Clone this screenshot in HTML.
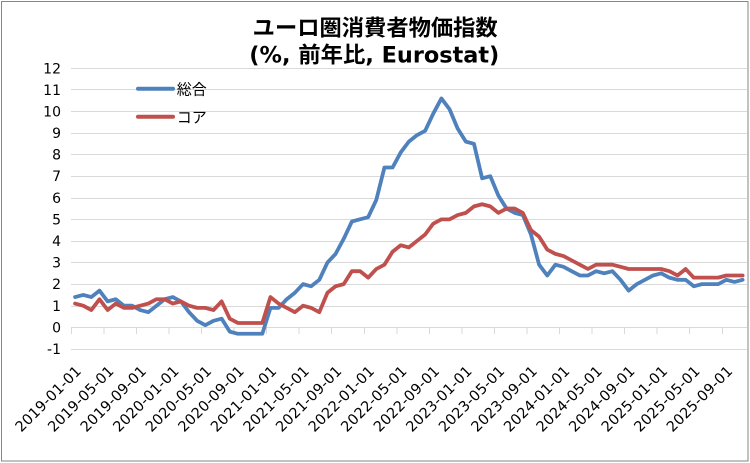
<!DOCTYPE html>
<html><head><meta charset="utf-8"><style>
html,body{margin:0;padding:0;background:#fff;}
svg{display:block;}
</style></head><body>
<svg width="750" height="463" viewBox="0 0 750 463" xmlns="http://www.w3.org/2000/svg">
<rect x="0" y="0" width="750" height="463" fill="#fff"/>
<rect x="1.5" y="1.5" width="746.5" height="459.5" fill="none" stroke="#868686" stroke-width="1"/>

<!-- title -->
<g font-family="'DejaVu Sans','Noto Sans CJK JP',sans-serif" font-weight="bold" font-size="22" fill="#000">
<text x="252.7" y="35.5" textLength="245" lengthAdjust="spacingAndGlyphs">ユーロ圏消費者物価指数</text>
<text x="249.3" y="62.5" textLength="250" lengthAdjust="spacingAndGlyphs">(%, 前年比, Eurostat)</text>
</g>

<!-- gridlines -->
<g stroke="#d9d9d9" stroke-width="1" shape-rendering="crispEdges">
<line x1="71" x2="747" y1="68.5" y2="68.5"/>
<line x1="71" x2="747" y1="89.5" y2="89.5"/>
<line x1="71" x2="747" y1="111.5" y2="111.5"/>
<line x1="71" x2="747" y1="133.5" y2="133.5"/>
<line x1="71" x2="747" y1="154.5" y2="154.5"/>
<line x1="71" x2="747" y1="176.5" y2="176.5"/>
<line x1="71" x2="747" y1="198.5" y2="198.5"/>
<line x1="71" x2="747" y1="219.5" y2="219.5"/>
<line x1="71" x2="747" y1="241.5" y2="241.5"/>
<line x1="71" x2="747" y1="262.5" y2="262.5"/>
<line x1="71" x2="747" y1="284.5" y2="284.5"/>
<line x1="71" x2="747" y1="306.5" y2="306.5"/>
<line x1="71" x2="747" y1="327.5" y2="327.5"/>
<line x1="71" x2="747" y1="349.5" y2="349.5"/>
<!-- ticks -->
<line x1="71.5" x2="71.5" y1="327" y2="334"/>
<line x1="104" x2="104" y1="327" y2="334"/>
<line x1="136.5" x2="136.5" y1="327" y2="334"/>
<line x1="169" x2="169" y1="327" y2="334"/>
<line x1="201.5" x2="201.5" y1="327" y2="334"/>
<line x1="234" x2="234" y1="327" y2="334"/>
<line x1="266.5" x2="266.5" y1="327" y2="334"/>
<line x1="299" x2="299" y1="327" y2="334"/>
<line x1="331.5" x2="331.5" y1="327" y2="334"/>
<line x1="364.5" x2="364.5" y1="327" y2="334"/>
<line x1="397" x2="397" y1="327" y2="334"/>
<line x1="429.5" x2="429.5" y1="327" y2="334"/>
<line x1="462" x2="462" y1="327" y2="334"/>
<line x1="494.5" x2="494.5" y1="327" y2="334"/>
<line x1="527" x2="527" y1="327" y2="334"/>
<line x1="559.5" x2="559.5" y1="327" y2="334"/>
<line x1="592" x2="592" y1="327" y2="334"/>
<line x1="624.5" x2="624.5" y1="327" y2="334"/>
<line x1="657" x2="657" y1="327" y2="334"/>
<line x1="689.5" x2="689.5" y1="327" y2="334"/>
<line x1="722.5" x2="722.5" y1="327" y2="334"/>
</g>

<!-- y labels -->
<g font-family="'DejaVu Sans',sans-serif" font-size="14" fill="#000" text-anchor="end">
<text x="61" y="73.3">12</text>
<text x="61" y="94.8">11</text>
<text x="61" y="116.4">10</text>
<text x="61" y="138">9</text>
<text x="61" y="159.6">8</text>
<text x="61" y="181.2">7</text>
<text x="61" y="202.8">6</text>
<text x="61" y="224.4">5</text>
<text x="61" y="246">4</text>
<text x="61" y="267.6">3</text>
<text x="61" y="289.2">2</text>
<text x="61" y="310.8">1</text>
<text x="61" y="332.3">0</text>
<text x="61" y="353.9">-1</text>
</g>

<!-- x labels -->
<g font-family="'DejaVu Sans',sans-serif" font-size="14.5" fill="#000" text-anchor="end">
<text transform="translate(82.07,372) rotate(-45)" textLength="86">2019-01-01</text>
<text transform="translate(114.63,372) rotate(-45)" textLength="86">2019-05-01</text>
<text transform="translate(147.2,372) rotate(-45)" textLength="86">2019-09-01</text>
<text transform="translate(179.76,372) rotate(-45)" textLength="86">2020-01-01</text>
<text transform="translate(212.33,372) rotate(-45)" textLength="86">2020-05-01</text>
<text transform="translate(244.89,372) rotate(-45)" textLength="86">2020-09-01</text>
<text transform="translate(277.45,372) rotate(-45)" textLength="86">2021-01-01</text>
<text transform="translate(310.02,372) rotate(-45)" textLength="86">2021-05-01</text>
<text transform="translate(342.58,372) rotate(-45)" textLength="86">2021-09-01</text>
<text transform="translate(375.15,372) rotate(-45)" textLength="86">2022-01-01</text>
<text transform="translate(407.71,372) rotate(-45)" textLength="86">2022-05-01</text>
<text transform="translate(440.27,372) rotate(-45)" textLength="86">2022-09-01</text>
<text transform="translate(472.84,372) rotate(-45)" textLength="86">2023-01-01</text>
<text transform="translate(505.4,372) rotate(-45)" textLength="86">2023-05-01</text>
<text transform="translate(537.97,372) rotate(-45)" textLength="86">2023-09-01</text>
<text transform="translate(570.53,372) rotate(-45)" textLength="86">2024-01-01</text>
<text transform="translate(603.09,372) rotate(-45)" textLength="86">2024-05-01</text>
<text transform="translate(635.66,372) rotate(-45)" textLength="86">2024-09-01</text>
<text transform="translate(668.22,372) rotate(-45)" textLength="86">2025-01-01</text>
<text transform="translate(700.79,372) rotate(-45)" textLength="86">2025-05-01</text>
<text transform="translate(733.35,372) rotate(-45)" textLength="86">2025-09-01</text>
</g>

<!-- series -->
<g transform="matrix(8.141 0 0 -21.59 75.07 327.3)" fill="none" stroke-linejoin="round" stroke-linecap="round">
<polyline vector-effect="non-scaling-stroke" stroke="#4f81bd" stroke-width="3.8" points="0,1.4 1,1.5 2,1.4 3,1.7 4,1.2 5,1.3 6,1.0 7,1.0 8,0.8 9,0.7 10,1.0 11,1.3 12,1.4 13,1.2 14,0.7 15,0.3 16,0.1 17,0.3 18,0.4 19,-0.2 20,-0.3 21,-0.3 22,-0.3 23,-0.3 24,0.9 25,0.9 26,1.3 27,1.6 28,2.0 29,1.9 30,2.2 31,3.0 32,3.4 33,4.1 34,4.9 35,5.0 36,5.1 37,5.9 38,7.4 39,7.4 40,8.1 41,8.6 42,8.9 43,9.1 44,9.9 45,10.6 46,10.1 47,9.2 48,8.6 49,8.5 50,6.9 51,7.0 52,6.1 53,5.5 54,5.3 55,5.2 56,4.3 57,2.9 58,2.4 59,2.9 60,2.8 61,2.6 62,2.4 63,2.4 64,2.6 65,2.5 66,2.6 67,2.2 68,1.7 69,2.0 70,2.2 71,2.4 72,2.5 73,2.3 74,2.2 75,2.2 76,1.9 77,2.0 78,2.0 79,2.0 80,2.2 81,2.1 82,2.2"/>
<polyline vector-effect="non-scaling-stroke" stroke="#c0504d" stroke-width="3.8" points="0,1.1 1,1.0 2,0.8 3,1.3 4,0.8 5,1.1 6,0.9 7,0.9 8,1.0 9,1.1 10,1.3 11,1.3 12,1.1 13,1.2 14,1.0 15,0.9 16,0.9 17,0.8 18,1.2 19,0.4 20,0.2 21,0.2 22,0.2 23,0.2 24,1.4 25,1.1 26,0.9 27,0.7 28,1.0 29,0.9 30,0.7 31,1.6 32,1.9 33,2.0 34,2.6 35,2.6 36,2.3 37,2.7 38,2.9 39,3.5 40,3.8 41,3.7 42,4.0 43,4.3 44,4.8 45,5.0 46,5.0 47,5.2 48,5.3 49,5.6 50,5.7 51,5.6 52,5.3 53,5.5 54,5.5 55,5.3 56,4.5 57,4.2 58,3.6 59,3.4 60,3.3 61,3.1 62,2.9 63,2.7 64,2.9 65,2.9 66,2.9 67,2.8 68,2.7 69,2.7 70,2.7 71,2.7 72,2.7 73,2.6 74,2.4 75,2.7 76,2.3 77,2.3 78,2.3 79,2.3 80,2.4 81,2.4 82,2.4"/>
</g>

<!-- legend -->
<line x1="138" x2="173" y1="88.7" y2="88.7" stroke="#4f81bd" stroke-width="4" stroke-linecap="round"/>
<line x1="138" x2="173" y1="116.7" y2="116.7" stroke="#c0504d" stroke-width="4" stroke-linecap="round"/>
<g font-family="'DejaVu Sans','Noto Sans CJK JP',sans-serif" font-size="15" fill="#000">
<text x="176.7" y="94.6">総合</text>
<text x="176.7" y="122.6">コア</text>
</g>
</svg>
</body></html>
